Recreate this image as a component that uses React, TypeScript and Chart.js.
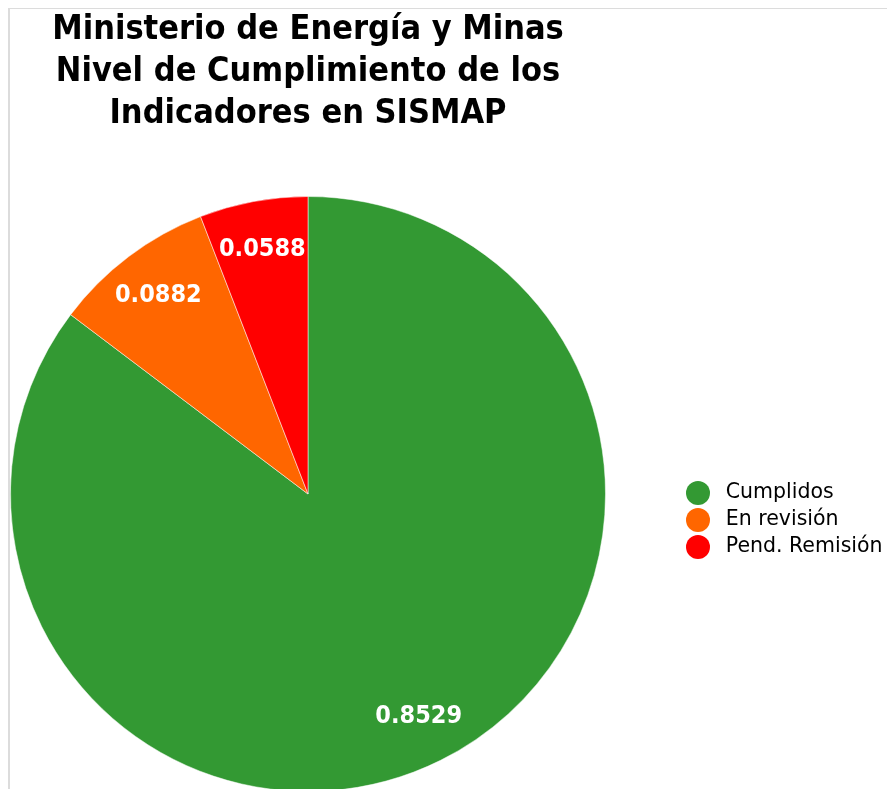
import React, { useEffect, useRef } from "react";
import { Chart, registerables } from "chart.js";

Chart.register(...registerables);

const categories = ["Cumplidos", "En revisión", "Pend. Remisión"];
const values = [0.8529, 0.0882, 0.0588];
const colors = ["#339933", "#FF6600", "#FF0000"];
const titleLines = ["Ministerio de Energía y Minas", "Nivel de Cumplimiento de los", "Indicadores en SISMAP"];

const FONT = "'DejaVu Sans Condensed', 'DejaVu Sans', sans-serif";
const LEGEND_FONT = "'DejaVu Sans', sans-serif";

function makeDot(color: string, d: number) {
  const c = document.createElement("canvas");
  c.width = d;
  c.height = d;
  const g = c.getContext("2d")!;
  g.fillStyle = color;
  g.beginPath();
  g.arc(d / 2, d / 2, d / 2, 0, Math.PI * 2);
  g.fill();
  return c;
}

const sliceLabels = {
  id: "sliceLabels",
  afterDatasetsDraw(chart: any) {
    const meta = chart.getDatasetMeta(0);
    const ctx = chart.ctx;
    ctx.save();
    ctx.font = `bold 25px ${FONT}`;
    ctx.fillStyle = "#ffffff";
    ctx.textAlign = "center";
    ctx.textBaseline = "middle";
    meta.data.forEach((arc: any, i: number) => {
      const p = arc.getProps(["x", "y", "startAngle", "endAngle", "outerRadius"], true);
      const mid = (p.startAngle + p.endAngle) / 2;
      const r = p.outerRadius * 0.835;
      ctx.fillText(String(values[i]), p.x + Math.cos(mid) * r, p.y + Math.sin(mid) * r);
    });
    ctx.restore();
  },
};

export default function App() {
  const ref = useRef<HTMLCanvasElement>(null);
  useEffect(() => {
    document.documentElement.style.overflow = "hidden";
    const dots = colors.map((c) => makeDot(c, 24));
    const chart = new Chart(ref.current!, {
      type: "pie",
      data: {
        labels: categories,
        datasets: [
          {
            data: values,
            backgroundColor: colors,
            borderColor: "rgba(255,255,255,0.5)",
            borderWidth: 1,
          },
        ],
      },
      options: {
        responsive: false,
        animation: false,
        layout: { padding: { left: 0, right: 6, top: 0, bottom: 7 } },
        plugins: {
          tooltip: { enabled: false },
          title: {
            display: true,
            text: titleLines,
            fullSize: false,
            color: "#000000",
            font: { family: FONT, size: 34, weight: "bold", lineHeight: 42 / 34 },
            padding: { top: 0, bottom: 61 },
          },
          subtitle: {
            display: true,
            text: " ",
            position: "right",
            fullSize: false,
            weight: 500,
            font: { size: 10, lineHeight: 0 },
            padding: { top: 34, bottom: 34 },
          },
          legend: {
            position: "right",
            fullSize: false,
            weight: 1000,
            maxWidth: 215,
            title: { display: true, text: "", padding: 0, font: { size: 12, lineHeight: 52 / 12 } },
            labels: {
              usePointStyle: true,
              pointStyleWidth: 35,
              padding: 6.5,
              color: "#000000",
              font: { family: LEGEND_FONT, size: 20.5 },
              generateLabels: (ch: any) => {
                const base = (Chart as any).overrides.doughnut.plugins.legend.labels.generateLabels(ch);
                return base.map((it: any, i: number) => ({ ...it, pointStyle: dots[i], lineWidth: 0 }));
              },
            },
          },
        },
      } as any,
      plugins: [sliceLabels],
    });
    return () => chart.destroy();
  }, []);
  return (
    <div style={{ width: 885, borderLeft: "2px solid #dcdcdc", borderTop: "1px solid #dcdcdc" }}>
      <canvas ref={ref} width={885} height={790} style={{ display: "block" }} />
    </div>
  );
}
